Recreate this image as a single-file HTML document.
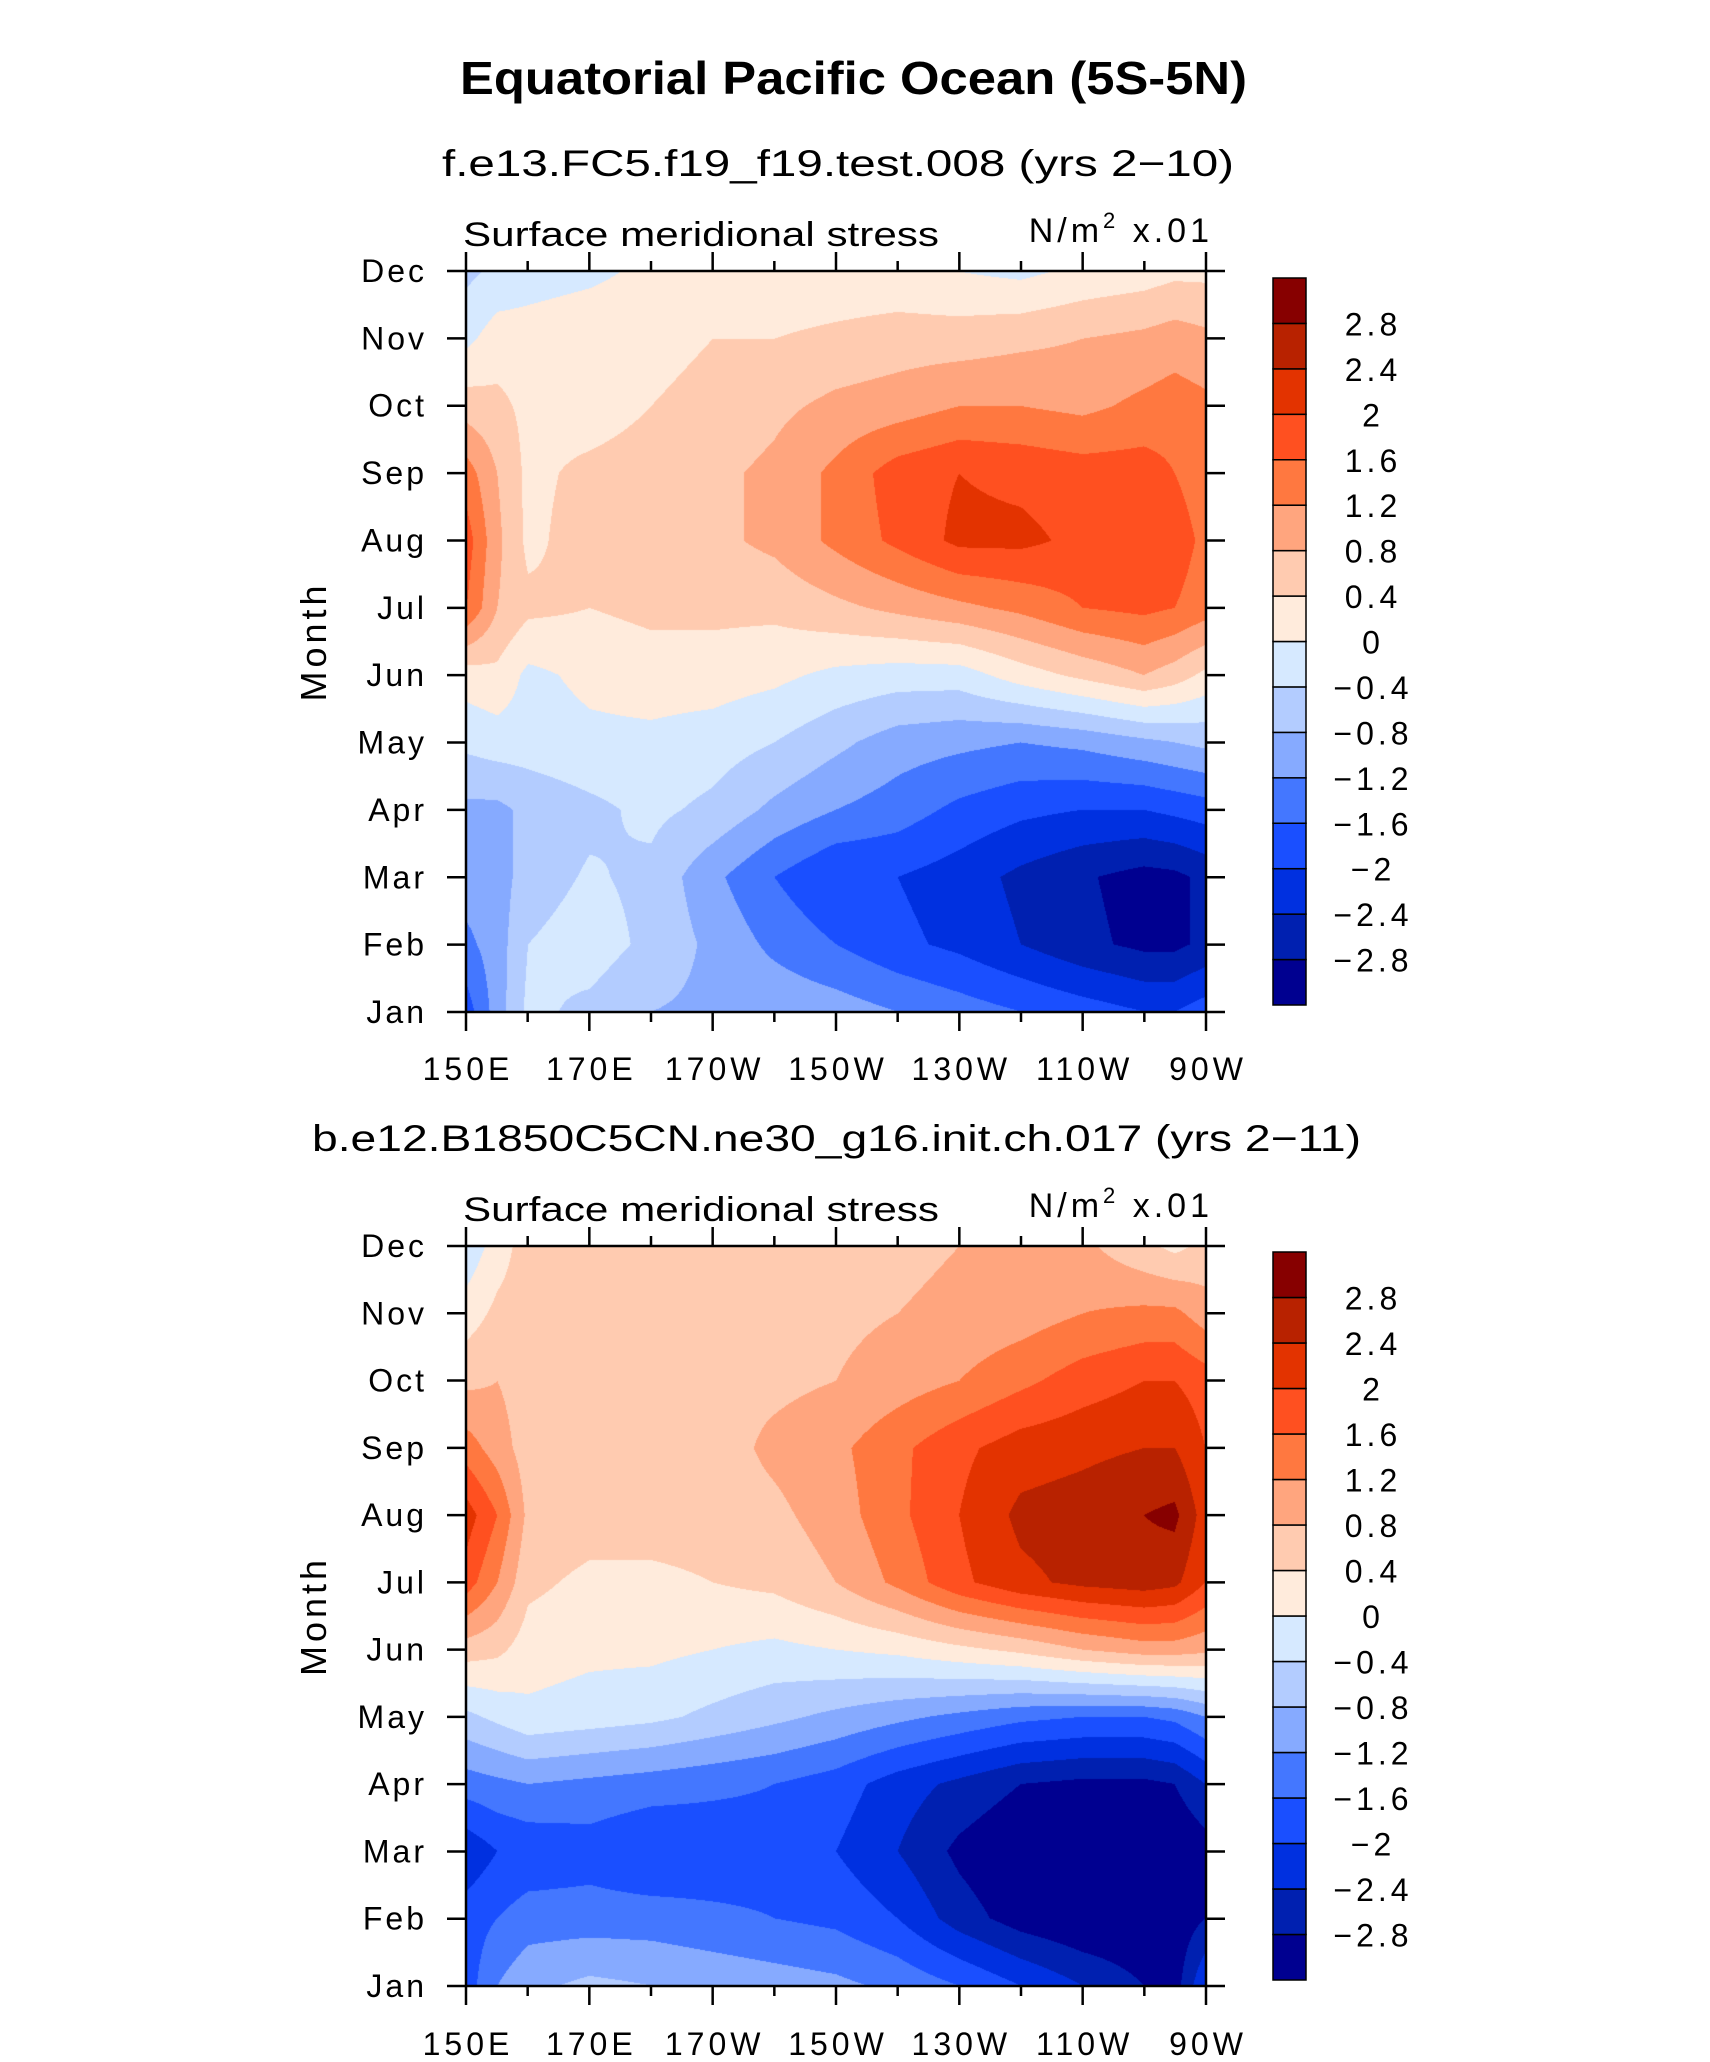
<!DOCTYPE html>
<html><head><meta charset="utf-8">
<style>
html,body{margin:0;padding:0;background:#fff;}
#wrap{position:relative;width:1710px;height:2062px;overflow:hidden;font-family:"Liberation Sans",sans-serif;}
canvas{position:absolute;}
svg{position:absolute;left:0;top:0;}
</style></head>
<body>
<div id="wrap">
<canvas id="c1" width="740" height="741" style="left:466px;top:271px"></canvas>
<canvas id="c2" width="740" height="740" style="left:466px;top:1246px"></canvas>
<svg id="s" width="1710" height="2062"></svg>
</div>
<script>
const months=["Jan","Feb","Mar","Apr","May","Jun","Jul","Aug","Sep","Oct","Nov","Dec"];
const lons=[150,155,160,170,180,190,200,210,220,230,240,250,260,265,270];
const xTickLabels=["150E","170E","170W","150W","130W","110W","90W"];
const xTickLons=[150,170,190,210,230,250,270];
const levels=[-2.8,-2.4,-2,-1.6,-1.2,-0.8,-0.4,0,0.4,0.8,1.2,1.6,2,2.4,2.8];
const levelLabels=["\u22122.8","\u22122.4","\u22122","\u22121.6","\u22121.2","\u22120.8","\u22120.4","0","0.4","0.8","1.2","1.6","2","2.4","2.8"];
const colors=["#000090","#0020B0","#0030E0","#1A4FFF","#4477FF","#86AAFF","#B3CCFF","#D6E9FF","#FFEBDC","#FFCBB0","#FFA57E","#FF7840","#FF5020","#E33300","#B82200","#870000"];
// rows Jan..Dec, columns = lons
const top1=[
[-1.8,-1.0,-0.3,-0.5,-0.8,-0.9,-0.9,-1.0,-1.2,-1.4,-1.6,-1.8,-2.0,-2.0,-1.8],
[-1.3,-1.0,-0.4,-0.2,-0.5,-0.9,-1.3,-1.6,-1.9,-2.1,-2.4,-2.7,-2.9,-2.9,-2.7],
[-1.0,-1.0,-0.6,-0.35,-0.5,-1.1,-1.6,-2.0,-2.0,-2.2,-2.5,-2.75,-2.95,-2.9,-2.7],
[-0.9,-0.9,-0.7,-0.5,-0.3,-0.5,-0.9,-1.2,-1.4,-1.7,-1.9,-2.0,-2.0,-1.9,-1.8],
[-0.3,-0.2,-0.2,-0.1,-0.1,-0.2,-0.4,-0.7,-1.0,-1.1,-1.2,-1.1,-0.9,-0.8,-0.7],
[0.2,0.3,-0.1,0.1,0.2,0.2,0.1,-0.1,-0.2,-0.2,0.2,0.5,0.8,0.6,0.3],
[1.6,0.8,0.5,0.4,0.5,0.5,0.5,0.7,0.9,1.1,1.3,1.6,1.7,1.6,1.4],
[1.8,0.9,0.3,0.6,0.6,0.7,0.9,1.3,1.7,2.1,2.1,1.9,1.9,1.8,1.5],
[1.4,0.8,0.3,0.5,0.6,0.7,0.9,1.3,1.8,2.0,1.9,1.8,1.8,1.6,1.4],
[0.6,0.5,0.3,0.2,0.4,0.5,0.7,0.9,1.0,1.2,1.2,1.1,1.3,1.4,1.3],
[-0.1,0.2,0.2,0.3,0.3,0.4,0.4,0.5,0.6,0.6,0.7,0.8,0.9,1.0,0.9],
[-0.5,-0.3,-0.2,-0.1,0.1,0.1,0.1,0.1,0.1,0.0,-0.1,0.1,0.2,0.3,0.3]];
const bottom2=[
[-1.8,-1.2,-0.9,-0.7,-0.8,-0.9,-1.0,-1.1,-1.3,-1.6,-2.0,-2.4,-2.8,-3.0,-2.0],
[-1.8,-1.6,-1.4,-1.4,-1.4,-1.5,-1.6,-1.7,-2.0,-2.6,-3.0,-3.2,-3.2,-3.1,-2.8],
[-2.3,-2.0,-1.9,-1.8,-2.0,-1.9,-1.8,-2.0,-2.4,-2.9,-3.2,-3.3,-3.3,-3.2,-3.0],
[-1.4,-1.3,-1.2,-1.3,-1.4,-1.5,-1.6,-1.8,-2.2,-2.5,-2.8,-2.9,-2.9,-2.8,-2.4],
[-0.5,-0.3,-0.1,-0.2,-0.3,-0.5,-0.7,-0.9,-1.1,-1.3,-1.5,-1.6,-1.6,-1.5,-1.2],
[0.6,0.5,0.2,0.1,0.1,0.0,-0.1,0.0,0.1,0.3,0.5,0.8,1.0,1.0,0.9],
[1.8,1.2,0.5,0.3,0.3,0.4,0.5,0.8,1.3,1.9,2.3,2.5,2.6,2.5,2.0],
[2.2,1.6,0.7,0.6,0.6,0.6,0.7,1.0,1.5,2.0,2.5,2.6,2.8,2.9,2.2],
[1.4,1.0,0.6,0.6,0.6,0.6,0.9,1.1,1.5,1.9,2.2,2.3,2.4,2.4,2.0],
[0.7,0.8,0.6,0.6,0.6,0.7,0.7,0.8,1.0,1.2,1.5,1.8,2.0,2.0,1.8],
[0.2,0.5,0.6,0.4,0.6,0.6,0.7,0.7,0.8,0.9,1.0,1.2,1.3,1.3,1.0],
[-0.3,0.2,0.6,0.6,0.6,0.6,0.6,0.6,0.7,0.8,0.9,0.9,0.5,0.3,0.5]];

const PX0=466,PX1=1206,PW=740;
const panels=[{y0:271,y1:1012,grid:top1,cv:'c1',sub:"f.e13.FC5.f19_f19.test.008 (yrs 2\u221210)",subX:442,subW:792,subY:176,lblY:246,cb0:278,cb1:1005,xlY:1080,name:'top'},
{y0:1246,y1:1986,grid:bottom2,cv:'c2',sub:"b.e12.B1850C5CN.ne30_g16.init.ch.017 (yrs 2\u221211)",subX:312,subW:1049,subY:1151,lblY:1221,cb0:1252,cb1:1980,xlY:2055,name:'bottom'}];
function xScale(lon){return PX0+(lon-150)/120*PW;}
function hex(c){return [parseInt(c.substr(1,2),16),parseInt(c.substr(3,2),16),parseInt(c.substr(5,2),16)];}
function sample(grid,lon,m){
  let j=0;while(j<lons.length-2&&lon>lons[j+1])j++;
  let tx=(lon-lons[j])/(lons[j+1]-lons[j]);tx=Math.max(0,Math.min(1,tx));
  let i=Math.min(10,Math.floor(m));let ty=m-i;
  const a=grid[i][j],b=grid[i][j+1],c=grid[i+1][j],d=grid[i+1][j+1];
  return (a*(1-tx)+b*tx)*(1-ty)+(c*(1-tx)+d*tx)*ty;
}
panels.forEach(p=>{
  const cv=document.getElementById(p.cv),ctx=cv.getContext('2d');
  const W=cv.width,H=cv.height,img=ctx.createImageData(W,H);
  const rgb=colors.map(hex);
  for(let y=0;y<H;y++){const m=11*(1-y/(H-1));
    for(let x=0;x<W;x++){const lon=150+120*x/(W-1);const v=sample(p.grid,lon,m);
      let k=0;while(k<levels.length&&v>=levels[k])k++;const c=rgb[k];const o=(y*W+x)*4;
      img.data[o]=c[0];img.data[o+1]=c[1];img.data[o+2]=c[2];img.data[o+3]=255;}}
  ctx.putImageData(img,0,0);
});
const NS="http://www.w3.org/2000/svg",svg=document.getElementById('s');
function el(tag,attrs,parent){const e=document.createElementNS(NS,tag);for(const k in attrs)e.setAttribute(k,attrs[k]);(parent||svg).appendChild(e);return e;}
function txt(str,attrs){const e=el('text',attrs);e.textContent=str;return e;}
let t=txt("Equatorial Pacific Ocean (5S-5N)",{x:460,y:94,textLength:787,lengthAdjust:'spacingAndGlyphs','font-size':46,'font-weight':'bold',fill:'#000'});

panels.forEach(p=>{
  const yS=m=>p.y1-(m/11)*(p.y1-p.y0);
  let e=txt(p.sub,{x:p.subX,y:p.subY,textLength:p.subW,lengthAdjust:'spacingAndGlyphs','font-size':37,fill:'#000'});
  
  e=txt("Surface meridional stress",{x:463,y:p.lblY,textLength:476,lengthAdjust:'spacingAndGlyphs','font-size':34,fill:'#000'});
  
  e=el('text',{x:1213,y:p.lblY-4,'text-anchor':'end','font-size':34,'letter-spacing':4,fill:'#000'});
  e.innerHTML='N/m<tspan dy="-14" font-size="22">2</tspan><tspan dy="14"> x.01</tspan>';
  
  e=el('rect',{x:PX0,y:p.y0,width:PW,height:p.y1-p.y0,fill:'none',stroke:'#000','stroke-width':2.5});
  
  months.forEach((mn,i)=>{const y=yS(i);
    el('line',{x1:PX0-19,x2:PX0,y1:y,y2:y,stroke:'#000','stroke-width':2.5});
    el('line',{x1:PX1,x2:PX1+19,y1:y,y2:y,stroke:'#000','stroke-width':2.5});
    const l=txt(mn,{x:PX0-39,y:y+11,'text-anchor':'end','font-size':32,'letter-spacing':3,fill:'#000'});
    });
  for(let lon=150;lon<=270;lon+=10){const x=xScale(lon);const major=(lon-150)%20===0;const L=major?19:10;
    el('line',{x1:x,x2:x,y1:p.y1,y2:p.y1+L,stroke:'#000','stroke-width':2.5});
    el('line',{x1:x,x2:x,y1:p.y0-L,y2:p.y0,stroke:'#000','stroke-width':2.5});}
  xTickLabels.forEach((s,i)=>{const l=txt(s,{x:xScale(xTickLons[i])+2,y:p.xlY,'text-anchor':'middle','font-size':32,'letter-spacing':4,fill:'#000'});
    });
  const yt=txt("Month",{x:0,y:0,'text-anchor':'middle','font-size':36,'letter-spacing':4,fill:'#000',transform:`translate(326,${(p.y0+p.y1)/2}) rotate(-90)`});
  
  const n=colors.length,bh=(p.cb1-p.cb0)/n;
  colors.forEach((c,i)=>{const r=el('rect',{x:1273,y:p.cb0+(n-1-i)*bh,width:33,height:bh,fill:c,stroke:'#000','stroke-width':1.5});
    });
  levelLabels.forEach((s,i)=>{const y=p.cb0+(n-1-i)*bh;
    const l=txt(s,{x:1373,y:y+12,'text-anchor':'middle','font-size':32,'letter-spacing':4,fill:'#000'});
    });
});
</script>
</body></html>
